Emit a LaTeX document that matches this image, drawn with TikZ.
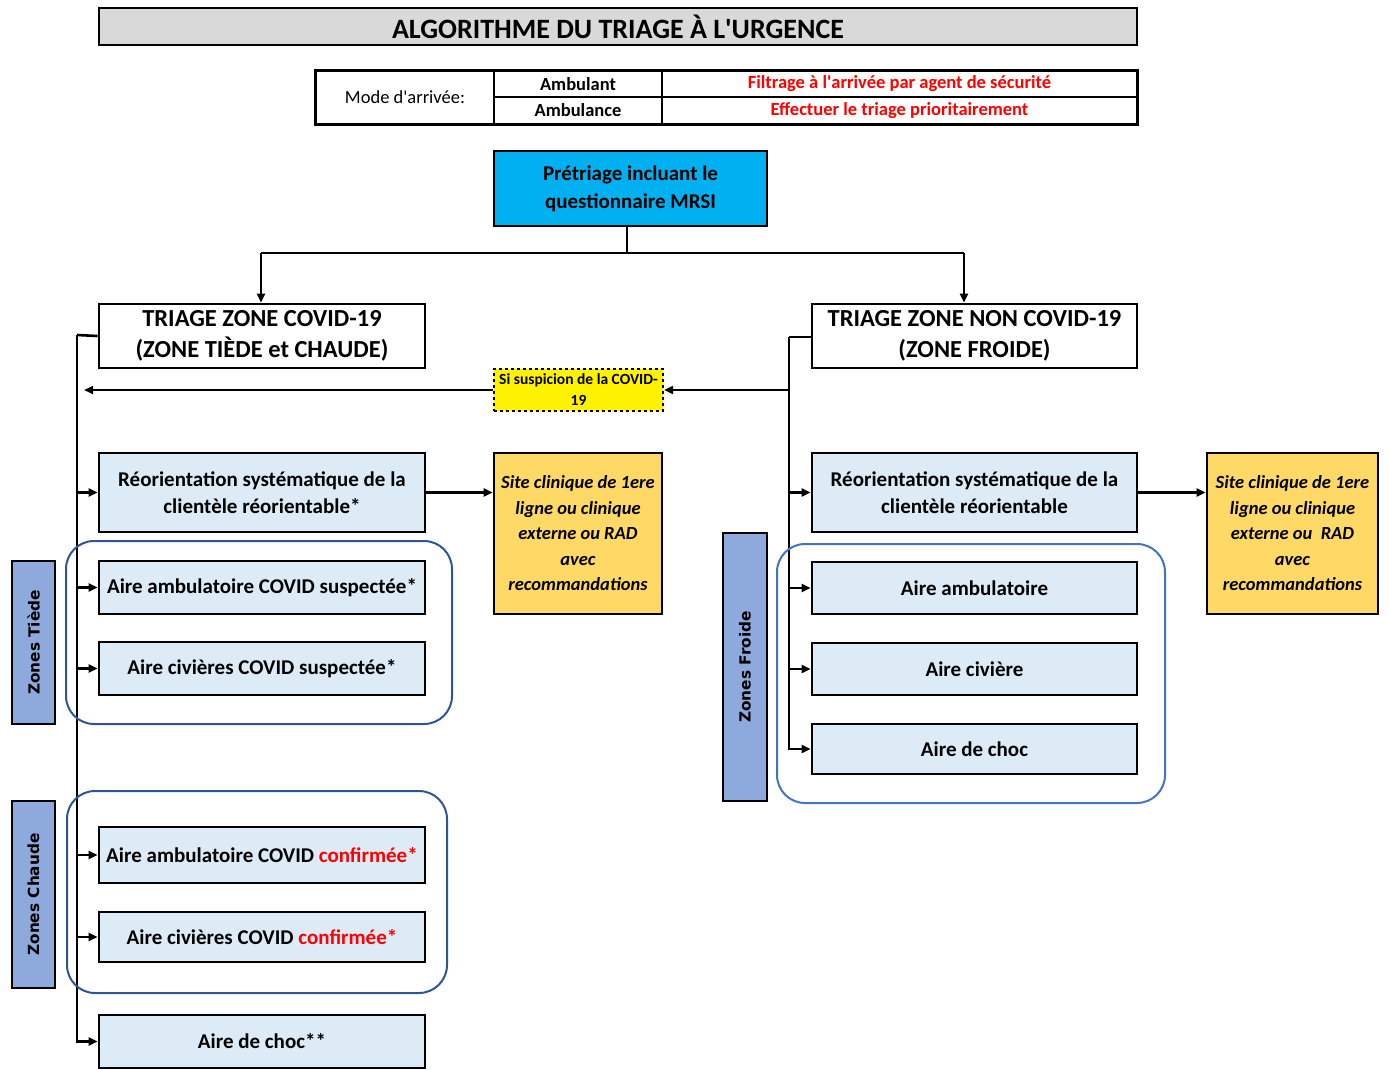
\documentclass[tikz,border=0pt]{standalone}
\usepackage{fontspec}
\setmainfont{Carlito}
\newfontfamily\zonefont{DejaVu Sans}
\usetikzlibrary{arrows.meta,calc}
\definecolor{titlegray}{HTML}{D9D9D9}
\definecolor{precyan}{HTML}{00B0F0}
\definecolor{paleblue}{HTML}{DDEBF7}
\definecolor{siteorange}{HTML}{FFD966}
\definecolor{zoneblue}{HTML}{8EA9DB}
\definecolor{ringdark}{HTML}{2F5597}
\definecolor{ringlight}{HTML}{4472C4}
\definecolor{alertred}{HTML}{FF0000}
\tikzset{
  bx/.style={draw=black, line width=2.6pt, inner sep=1pt, align=center, font=\bfseries},
  tbl/.style={draw=black, line width=2pt, inner sep=1pt, align=center},
  areabox/.style={bx, fill=paleblue, minimum width=326pt, font=\fontsize{21}{27}\selectfont\bfseries},
  sitebox/.style={bx, fill=siteorange, minimum height=161pt, font=\fontsize{18.5}{25.5}\selectfont\bfseries\itshape},
  zonebox/.style={draw=black, line width=2.6pt, fill=zoneblue, rotate=90, inner sep=0pt, minimum height=43pt, font=\zonefont\fontsize{15.3}{18}\selectfont\bfseries},
  conn/.style={line width=2.6pt, draw=black},
  arr/.style={conn, -{Triangle[length=9pt,width=8pt]}},
  ring/.style={line width=2pt, rounded corners=28pt}
}
\begin{document}
\begin{tikzpicture}[x=1pt,y=-1pt]
\useasboundingbox (0,0) rectangle (1389,1070);
% title
\node[bx, fill=titlegray, minimum width=1038pt, minimum height=37pt, font=\fontsize{28}{30}\selectfont\bfseries] (title) at (618,26.5) {ALGORITHME DU TRIAGE À L\textquotesingle URGENCE};
% table
\node[tbl, minimum width=178pt, minimum height=53pt, font=\fontsize{18.5}{20}\selectfont] (mode) at (405,97.5) {Mode d\textquotesingle arrivée:};
\node[tbl, minimum width=168pt, minimum height=26pt, font=\fontsize{18.5}{20}\selectfont\bfseries] (amb1) at (578,84) {Ambulant};
\node[tbl, minimum width=168pt, minimum height=27pt, font=\fontsize{18.5}{20}\selectfont\bfseries] (amb2) at (578,110.5) {Ambulance};
\node[tbl, minimum width=475pt, minimum height=26pt, text=alertred, font=\fontsize{18.5}{20}\selectfont\bfseries] (filt) at (899.5,84) {Filtrage à l\textquotesingle arrivée par agent de sécurité};
\node[tbl, minimum width=475pt, minimum height=27pt, text=alertred, font=\fontsize{18.5}{20}\selectfont\bfseries] (eff) at (899.5,110.5) {Effectuer le triage prioritairement};
\draw[line width=2.6pt] (mode.north west) rectangle (eff.south east);
% pretriage
\node[bx, fill=precyan, minimum width=273pt, minimum height=75pt, font=\fontsize{21}{28}\selectfont\bfseries] (pre) at (630.5,188.5) {Prétriage incluant le\\questionnaire MRSI};
% triage boxes
\node[bx, fill=white, minimum width=326pt, minimum height=64pt, font=\fontsize{24.5}{31}\selectfont\bfseries] (ltri) at (262,336) {TRIAGE ZONE COVID-19\\(ZONE TIÈDE et CHAUDE)};
\node[bx, fill=white, minimum width=325pt, minimum height=64pt, font=\fontsize{24.5}{31}\selectfont\bfseries] (rtri) at (974.5,336) {TRIAGE ZONE NON COVID-19\\(ZONE FROIDE)};
% suspicion
\node[draw=black, line width=2pt, dashed, fill=yellow, minimum width=169pt, minimum height=42pt, inner sep=0pt, align=center, font=\fontsize{15.5}{21}\selectfont\bfseries] (yel) at (578.5,390) {Si suspicion de la COVID-\\19};
% left areas
\node[areabox, minimum height=79pt] (lreo) at (262,492.5) {Réorientation systématique de la\\clientèle réorientable*};
\node[areabox, minimum height=53pt] (lamb) at (262,587.5) {Aire ambulatoire COVID suspectée*};
\node[areabox, minimum height=53pt] (lciv) at (262,668.5) {Aire civières COVID suspectée*};
\node[areabox, minimum height=56pt] (lambc) at (262,855) {Aire ambulatoire COVID \textcolor{alertred}{confirmée*}};
\node[areabox, minimum height=50pt] (lcivc) at (262,937) {Aire civières COVID \textcolor{alertred}{confirmée*}};
\node[areabox, minimum height=53pt] (lchoc) at (262,1041.5) {Aire de choc**};
\node[sitebox, minimum width=168pt] (lsite) at (578,533.5) {Site clinique de 1ere\\ligne ou clinique\\externe ou RAD\\avec\\recommandations};
% right areas
\node[areabox, minimum width=325pt, minimum height=79pt] (rreo) at (974.5,492.5) {Réorientation systématique de la\\clientèle réorientable};
\node[areabox, minimum width=325pt, minimum height=52pt] (ramb) at (974.5,588) {Aire ambulatoire};
\node[areabox, minimum width=325pt, minimum height=52pt] (rciv) at (974.5,669) {Aire civière};
\node[areabox, minimum width=325pt, minimum height=50pt] (rchoc) at (974.5,749) {Aire de choc};
\node[sitebox, minimum width=171pt] (rsite) at (1292.5,533.5) {Site clinique de 1ere\\ligne ou clinique\\externe ou~ RAD\\avec\\recommandations};
% zone labels
\node[zonebox, minimum width=163pt] (ztiede) at (33.5,642.5) {Zones Tiède};
\node[zonebox, minimum width=187pt] (zchaude) at (33.5,894.5) {Zones Chaude};
\node[zonebox, minimum width=268pt, minimum height=44pt] (zfroide) at (745,667) {Zones Froide};
% connectors from pretriage
\coordinate (split) at (627,253);
\coordinate (ldrop) at (261,253);
\coordinate (rdrop) at (964,253);
\draw[conn] (pre.south -| split) -- (split);
\draw[conn] (ldrop) -- (rdrop);
\draw[arr] (ldrop) -- (ldrop |- ltri.north);
\draw[arr] (rdrop) -- (rdrop |- rtri.north);
% left trunk
\coordinate (ltop) at (77,335);
\draw[conn] (ltri.west) -- (ltop);
\draw[arr] (ltop) |- (lchoc.west);
\foreach \n in {lreo,lamb,lciv,lambc,lcivc} \draw[arr] (ltop |- \n.west) -- (\n.west);
% right trunk
\coordinate (rtop) at (789,337);
\draw[conn] (rtri.west |- rtop) -- (rtop);
\draw[arr] (rtop) |- (rchoc.west);
\foreach \n in {rreo,ramb,rciv} \draw[arr] (rtop |- \n.west) -- (\n.west);
% suspicion arrows
\draw[arr] (rtop |- yel.east) -- (yel.east);
\draw[arr, shorten >=7pt] (yel.west) -- (ltop |- yel.west);
% reorientation arrows
\draw[arr] (lreo.east) -- (lsite.west |- lreo.east);
\draw[arr] (rreo.east) -- (rsite.west |- rreo.east);
% rings
\draw[ring, draw=ringdark] (66,541) rectangle (452,724);
\draw[ring, draw=ringdark] (67,791) rectangle (447,993);
\draw[ring, draw=ringlight] (777,544) rectangle (1165,803);
\end{tikzpicture}
\end{document}
